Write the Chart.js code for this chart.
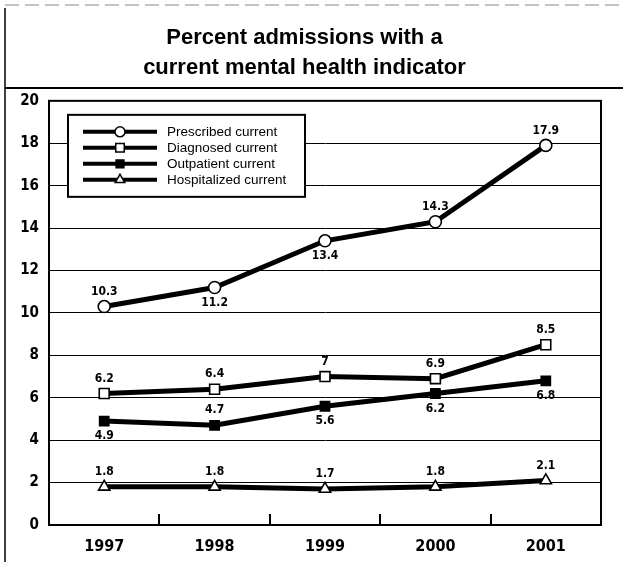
<!DOCTYPE html>
<html>
<head>
<meta charset="utf-8">
<script src="https://cdn.jsdelivr.net/npm/chart.js@4"></script>
<style>
  html, body { margin: 0; padding: 0; background: #fff; }
  #wrap { width: 623px; height: 562px; }
</style>
</head>
<body>
<div id="wrap"><canvas id="admissionsChart" width="623" height="562"></canvas></div>
<script>
var years = ['1997', '1998', '1999', '2000', '2001'];

var prescribed   = [10.3, 11.2, 13.4, 14.3, 17.9];
var diagnosed    = [6.2, 6.4, 7, 6.9, 8.5];
var outpatient   = [4.9, 4.7, 5.6, 6.2, 6.8];
var hospitalized = [1.8, 1.8, 1.7, 1.8, 2.1];

var seriesNames = ['Prescribed current', 'Diagnosed current', 'Outpatient current', 'Hospitalized current'];

var yMax = 20;
var yStep = 2;

var titleLines = ['Percent admissions with a', 'current mental health indicator'];

// where each value label sits relative to its point
var labelSide = [
    ['up', 'down', 'down', 'up', 'up'],
    ['up', 'up', 'up', 'up', 'up'],
    ['down', 'up', 'down', 'down', 'down'],
    ['up', 'up', 'up', 'up', 'up']
];

var markers = [
    { style: 'circle', radius: 6, fill: '#fff' },
    { style: 'rect', radius: 7, fill: '#fff' },
    { style: 'rect', radius: 6.5, fill: '#000' },
    { style: 'triangle', radius: 6.5, fill: '#fff' }
];

var condensed = '"DejaVu Sans Condensed", "Liberation Sans", Arial, sans-serif';
var plain = '"Liberation Sans", Arial, sans-serif';

var seriesData = [prescribed, diagnosed, outpatient, hospitalized];

var datasets = seriesData.map((values, i) => ({
    label: seriesNames[i],
    data: values,
    borderColor: '#000',
    borderWidth: 5,
    fill: false,
    tension: 0,
    pointStyle: markers[i].style,
    pointRadius: markers[i].radius,
    pointBackgroundColor: markers[i].fill,
    pointBorderColor: '#000',
    pointBorderWidth: 1.6,
    labelSide: labelSide[i]
}));

// frame around the plot, rules of the page, short ticks on the x axis
var framePlugin = {
    id: 'frame',
    beforeDatasetsDraw(chart) {
        var ctx = chart.ctx;
        var a = chart.chartArea;
        var x = chart.scales.x;
        ctx.save();
        ctx.strokeStyle = '#000';
        ctx.lineWidth = 2;
        ctx.strokeRect(a.left, a.top, a.right - a.left, a.bottom - a.top);
        for (let i = 0; i < years.length - 1; i++) {
            var px = Math.round((x.getPixelForValue(i) + x.getPixelForValue(i + 1)) / 2);
            ctx.beginPath();
            ctx.moveTo(px, a.bottom);
            ctx.lineTo(px, a.bottom - 11);
            ctx.stroke();
        }
        ctx.restore();
    },
    afterDraw(chart) {
        var ctx = chart.ctx;
        ctx.save();
        ctx.strokeStyle = '#000';
        ctx.lineWidth = 2;
        ctx.beginPath();
        ctx.moveTo(5, 88);
        ctx.lineTo(chart.width, 88);
        ctx.stroke();
        ctx.lineWidth = 1.5;
        ctx.beginPath();
        ctx.moveTo(5, 8);
        ctx.lineTo(5, chart.height);
        ctx.stroke();
        ctx.strokeStyle = '#888';
        ctx.lineWidth = 1;
        ctx.setLineDash([14, 6]);
        ctx.beginPath();
        ctx.moveTo(5, 5);
        ctx.lineTo(chart.width, 5);
        ctx.stroke();
        ctx.restore();
    }
};

// value labels next to each point
var valueLabels = {
    id: 'valueLabels',
    afterDatasetsDraw(chart) {
        var ctx = chart.ctx;
        ctx.save();
        ctx.font = 'bold 12px ' + condensed;
        ctx.fillStyle = '#000';
        ctx.textAlign = 'center';
        ctx.textBaseline = 'middle';
        chart.data.datasets.forEach((ds, di) => {
            chart.getDatasetMeta(di).data.forEach((pt, i) => {
                var dy = ds.labelSide[i] === 'up' ? -15 : 15;
                ctx.fillText(String(ds.data[i]), pt.x, pt.y + dy);
            });
        });
        ctx.restore();
    }
};

// boxed legend inside the plot, top left
var boxLegend = {
    id: 'boxLegend',
    afterDraw(chart) {
        var ctx = chart.ctx;
        var a = chart.chartArea;
        var bx = a.left + 19, by = a.top + 14, bw = 237, bh = 82;
        ctx.save();
        ctx.fillStyle = '#fff';
        ctx.fillRect(bx, by, bw, bh);
        ctx.strokeStyle = '#000';
        ctx.lineWidth = 2;
        ctx.strokeRect(bx, by, bw, bh);
        ctx.font = '13.5px ' + plain;
        ctx.textBaseline = 'middle';
        chart.data.datasets.forEach((ds, i) => {
            var y = by + 17 + i * 16;
            ctx.strokeStyle = '#000';
            ctx.lineWidth = 4;
            ctx.beginPath();
            ctx.moveTo(bx + 15, y);
            ctx.lineTo(bx + 89, y);
            ctx.stroke();
            ctx.fillStyle = ds.pointBackgroundColor;
            ctx.strokeStyle = '#000';
            ctx.lineWidth = 1.5;
            Chart.helpers.drawPoint(ctx, {
                pointStyle: ds.pointStyle,
                radius: ds.pointRadius - 1,
                borderWidth: 1.5,
                rotation: 0
            }, bx + 52, y);
            ctx.fillStyle = '#000';
            ctx.fillText(ds.label, bx + 99, y);
        });
        ctx.restore();
    }
};

new Chart(document.getElementById('admissionsChart'), {
    type: 'line',
    data: {
        labels: years,
        datasets: datasets
    },
    options: {
        responsive: false,
        animation: false,
        devicePixelRatio: 1,
        layout: {
            padding: { left: 8, right: 22, top: 0, bottom: 0 }
        },
        scales: {
            x: {
                type: 'category',
                offset: true,
                grid: { display: false, drawTicks: false },
                border: { display: true, color: '#000', width: 2 },
                ticks: {
                    color: '#000',
                    padding: 12,
                    font: { family: condensed, size: 16, weight: 'bold' }
                },
                afterFit(scale) { scale.height = 37; }
            },
            y: {
                min: 0,
                max: yMax,
                grid: { color: '#000', lineWidth: 1, drawTicks: false },
                border: { display: true, color: '#000', width: 2 },
                ticks: {
                    stepSize: yStep,
                    color: '#000',
                    padding: 10,
                    font: { family: condensed, size: 15, weight: 'bold' }
                },
                afterFit(scale) { scale.width = 41; }
            }
        },
        plugins: {
            legend: { display: false },
            tooltip: { enabled: false },
            title: {
                display: true,
                text: titleLines,
                color: '#000',
                font: { family: plain, size: 22, weight: 'bold', lineHeight: 1.36 },
                padding: { top: 23, bottom: 18 }
            }
        }
    },
    plugins: [framePlugin, valueLabels, boxLegend]
});
</script>
</body>
</html>
